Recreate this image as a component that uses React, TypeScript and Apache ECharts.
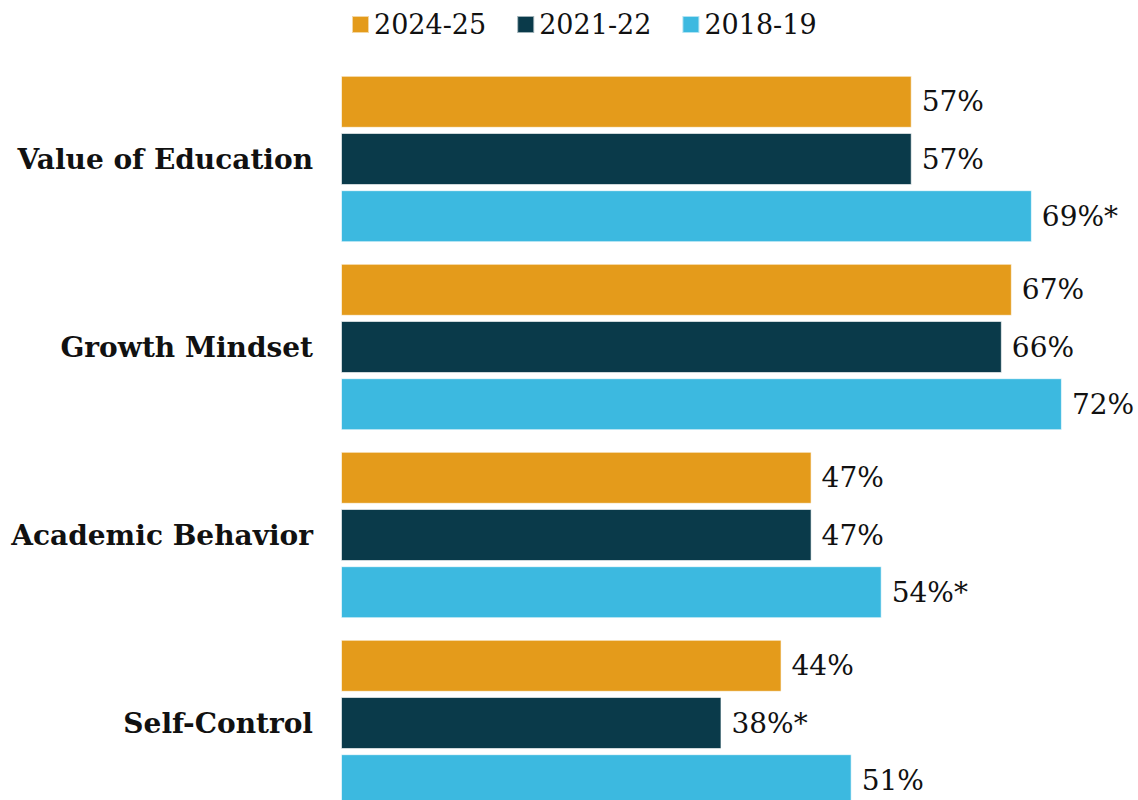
import React, { useEffect, useRef } from "react";
import * as echarts from "echarts";

const categories = ["Value of Education", "Growth Mindset", "Academic Behavior", "Self-Control"];
const seriesNames = ["2024-25", "2021-22", "2018-19"];
const values2024 = [57, 67, 47, 44];
const values2021 = [57, 66, 47, 38];
const values2018 = [69, 72, 54, 51];
const star2024 = [false, false, false, false];
const star2021 = [false, false, false, true];
const star2018 = [true, false, true, false];
const colors = ["#E49B1B", "#0A3A4A", "#3CB9E0"];

export default function App() {
  const ref = useRef<HTMLDivElement>(null);
  useEffect(() => {
    const chart = echarts.init(ref.current!, null, { renderer: "svg" });
    const allValues = [values2024, values2021, values2018];
    const allStars = [star2024, star2021, star2018];
    const serif = "'DejaVu Serif', Georgia, serif";
    chart.setOption({
      animation: false,
      legend: {
        top: 6,
        left: 346,
        itemWidth: 17,
        itemHeight: 17,
        itemGap: 30,
        icon: "rect",
        textStyle: { fontFamily: serif, fontSize: 27, color: "#111" },
        data: seriesNames,
      },
      grid: { left: 341, top: 65, width: 801, height: 752, containLabel: false, outerBoundsMode: "none" },
      xAxis: { type: "value", min: 0, max: 80, show: false },
      yAxis: {
        type: "category",
        data: categories,
        inverse: true,
        axisLine: { show: false },
        axisTick: { show: false },
        axisLabel: {
          margin: 28,
          fontFamily: serif,
          fontWeight: "bold",
          fontSize: 28,
          color: "#111",
        },
      },
      series: seriesNames.map((name, i) => ({
        name,
        type: "bar",
        barWidth: 52,
        barGap: "10%",
        itemStyle: { color: colors[i], borderColor: "rgba(255,255,255,0.6)", borderWidth: 1 },
        label: {
          show: true,
          position: "right",
          distance: 10,
          fontFamily: serif,
          fontSize: 28,
          color: "#111",
          formatter: (p: any) => `${p.value}%${allStars[i][p.dataIndex] ? "*" : ""}`,
        },
        data: allValues[i],
      })),
    });
    return () => chart.dispose();
  }, []);
  return <div ref={ref} style={{ position: "fixed", left: 0, top: 0, width: 1138, height: 800, background: "#fff" }} />;
}
